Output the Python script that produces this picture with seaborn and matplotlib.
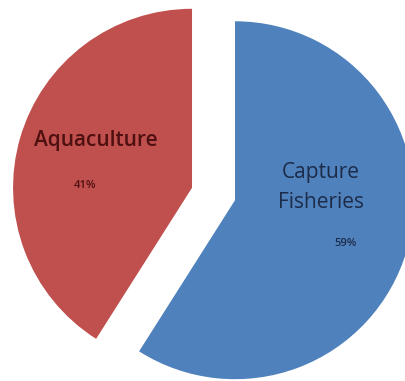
import matplotlib
matplotlib.use("Agg")
import matplotlib.pyplot as plt
import seaborn as sns

# Share of production by source
categories = ["Capture Fisheries", "Aquaculture"]
shares = [59, 41]
label_text = ["Capture\nFisheries", "Aquaculture"]

sns.set_style("white")
plt.rcParams["font.family"] = ["Open Sans", "DejaVu Sans"]

colors = ["#4F81BD", "#C0504D"]
text_colors = ["#1C2B48", "#4E1010"]
name_weights = ["normal", "semibold"]

fig = plt.figure(figsize=(4.05, 3.81), dpi=100)
ax = fig.add_axes([0, 0, 1, 1])

ax.pie(shares, colors=colors, startangle=90, counterclock=False,
       explode=[0.125, 0.125], radius=1.0,
       wedgeprops=dict(linewidth=0))

# Category names and percentages inside each wedge
name_pos = [(0.60, 0.035), (-0.66, 0.30)]
pct_pos = [(0.74, -0.275), (-0.72, 0.045)]
for name, val, (nx, ny), (px, py), tc, w in zip(label_text, shares, name_pos,
                                                 pct_pos, text_colors, name_weights):
    ax.text(nx, ny, name, ha="center", va="center", fontsize=15,
            color=tc, linespacing=1.55, fontweight=w)
    ax.text(px, py, f"{val}%", ha="center", va="center", fontsize=8,
            color=tc, fontweight="semibold")

ax.set_xlim(-1.193, 1.070)
ax.set_ylim(-1.045, 1.084)
ax.set_aspect("auto")
ax.axis("off")

fig.savefig("out.png", dpi=100)
